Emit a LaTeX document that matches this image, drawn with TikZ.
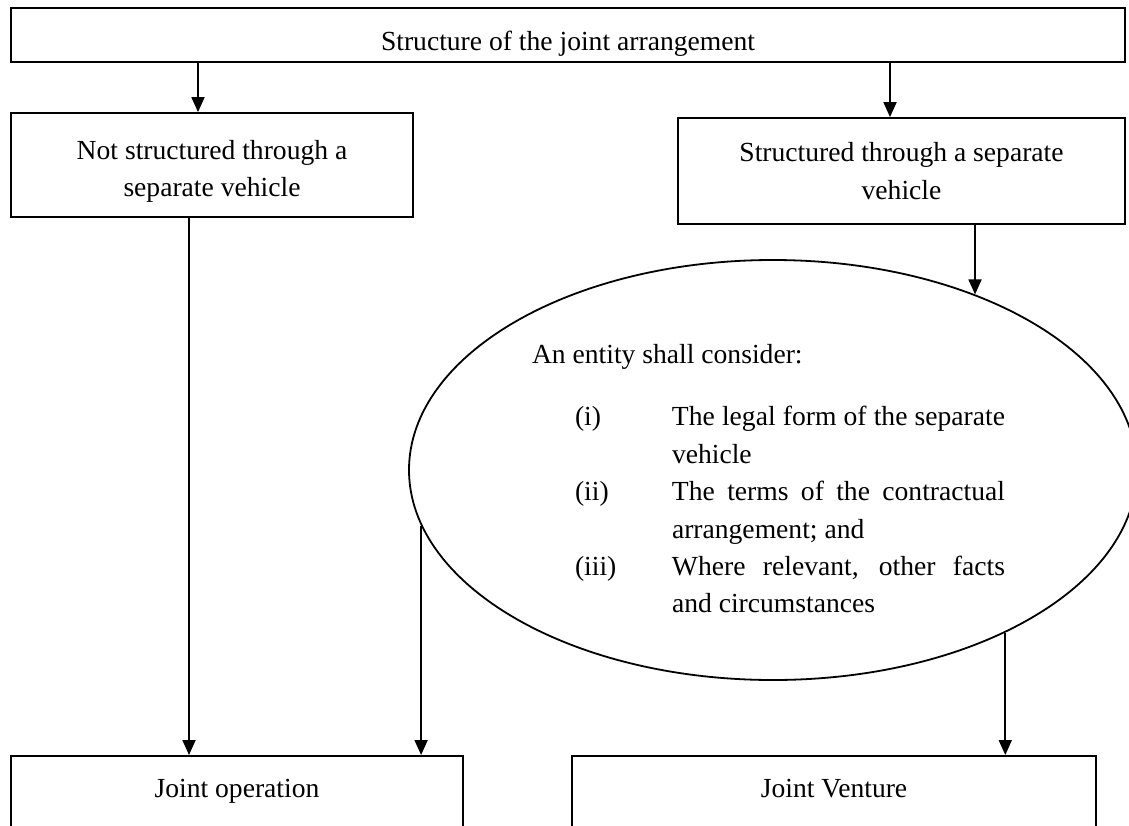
\documentclass[tikz,border=0pt]{standalone}
\usepackage{fontspec}
\setmainfont{Liberation Serif}
\usetikzlibrary{arrows.meta,shapes.geometric}

\newcommand{\voce}[2]{\par\noindent\hangindent=70pt\hangafter=1
  \makebox[70pt][l]{\hspace{21.5pt}#1}#2\par}

\tikzset{
  riquadro/.style={draw, line width=0.9pt, inner sep=0pt},
  freccia/.style={line width=0.9pt, -{Triangle[length=7.5pt,width=6.5pt]}},
}

\begin{document}
\begin{tikzpicture}[x=0.5pt,y=-0.5pt,font=\fontsize{13.8pt}{18.7pt}\selectfont]
  \path[use as bounding box, fill=white] (0,0) rectangle (1129,825);
  % Riquadri
  \node[riquadro, minimum width=557pt, text height=21pt, text depth=6pt] (top) at (568,35) {Structure of the joint arrangement};
  \node[riquadro, minimum width=201pt, minimum height=52pt, align=center] (nsv) at (212,165) {\rule{0pt}{15.8pt}Not structured through a\\separate vehicle};
  \node[riquadro, minimum width=223.5pt, minimum height=53pt, align=center] (sv) at (901.5,171) {Structured through a separate\\vehicle};
  % Ellisse
  \node[ellipse, draw, line width=0.9pt, inner sep=0pt, minimum width=364pt, minimum height=210pt] (cons) at (773,470)
    {\hbox{\parbox{236.5pt}{\fontsize{13.8pt}{18.7pt}\selectfont
      \hyphenpenalty=10000 \tolerance=10000
      \vspace*{9pt}\noindent An entity shall consider:\par
      \vspace{12.3pt}
      \voce{(i)}{The legal form of the separate vehicle}
      \voce{(ii)}{The terms of the contractual\linebreak arrangement; and}
      \voce{(iii)}{Where relevant, other facts\linebreak and circumstances}}\hspace{4.5pt}}};
  % Riquadri in basso
  \node[riquadro, anchor=north, minimum width=226pt, text height=21pt, text depth=42pt] (jo) at (237,755) {Joint operation};
  \node[riquadro, anchor=north, minimum width=262pt, text height=21pt, text depth=42pt] (jv) at (834,755) {Joint Venture};
  % Frecce
  \coordinate (a1) at (198,0);
  \coordinate (a2) at (890,0);
  \coordinate (a4) at (189,0);
  \draw[freccia] (a1 |- top.south) -- (a1 |- nsv.north);
  \draw[freccia] (a2 |- top.south) -- (a2 |- sv.north);
  \draw[freccia] (cons.41.5 |- sv.south) -- (cons.41.5);
  \draw[freccia] (a4 |- nsv.south) -- (a4 |- jo.north);
  \draw[freccia] (cons.189.06) -- (cons.189.06 |- jo.north);
  \draw[freccia] (cons.-35.85) -- (cons.-35.85 |- jv.north);
\end{tikzpicture}
\end{document}
